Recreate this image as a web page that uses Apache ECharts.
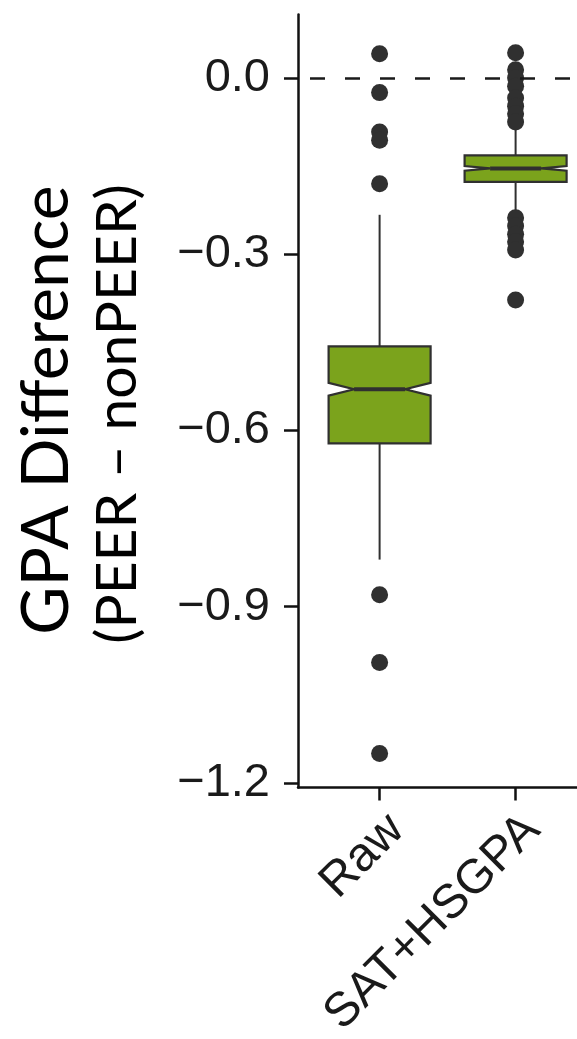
<!DOCTYPE html>
<html>
<head>
<meta charset="utf-8">
<script src="https://cdn.jsdelivr.net/npm/echarts@6/dist/echarts.min.js"></script>
<style>
html,body{margin:0;padding:0;background:#fff;}
#chart{width:577px;height:1039px;}
</style>
</head>
<body>
<div id="chart"></div>
<script>
// ---- data ----
const categories = ['Raw', 'SAT+HSGPA'];
const yTicks = [0, -0.3, -0.6, -0.9, -1.2];
// [lowerWhisker, q1, notchLow, median, notchHigh, q3, upperWhisker]
const rawBox = [-0.820, -0.622, -0.541, -0.530, -0.519, -0.457, -0.233];
const satBox = [-0.225, -0.177, -0.158, -0.154, -0.150, -0.132, -0.085];
const rawOutliers = [0.041, -0.025, -0.092, -0.106, -0.180, -0.880, -0.995, -1.150];
const satOutliers = [0.043, 0.014, 0.000, -0.014, -0.034, -0.048, -0.061, -0.075,
                     -0.238, -0.252, -0.266, -0.279, -0.293, -0.378];
const refLine = 0;

const boxes = [rawBox, satBox];
const outliers = [rawOutliers, satOutliers];

const chart = echarts.init(document.getElementById('chart'), null, {renderer: 'canvas'});

const boxData = categories.map((c, i) => [i + 1].concat(boxes[i]));
const outlierData = [];
outliers.forEach((arr, i) => arr.forEach(v => outlierData.push([i + 1, v])));

const ink = '#303030';
const fill = '#7ba31c';

function renderBox(params, api) {
  const x = api.value(0);
  const lw = api.value(1), q1 = api.value(2), nlo = api.value(3), med = api.value(4),
        nhi = api.value(5), q3 = api.value(6), uw = api.value(7);
  const hw = 0.375, nw = 0.1875;
  const P = (dx, v) => api.coord([x + dx, v]);
  const c = P(0, 0)[0];
  const pts = [P(-hw, q3), P(hw, q3), P(hw, nhi), P(nw, med), P(hw, nlo), P(hw, q1),
               P(-hw, q1), P(-hw, nlo), P(-nw, med), P(-hw, nhi)];
  const yq3 = P(0, q3)[1], yq1 = P(0, q1)[1], yuw = P(0, uw)[1], ylw = P(0, lw)[1];
  const m1 = P(-nw, med), m2 = P(nw, med);
  return {
    type: 'group',
    children: [
      {type: 'line', shape: {x1: c, y1: yq3, x2: c, y2: yuw}, style: {stroke: ink, lineWidth: 2}},
      {type: 'line', shape: {x1: c, y1: yq1, x2: c, y2: ylw}, style: {stroke: ink, lineWidth: 2}},
      {type: 'polygon', shape: {points: pts}, style: {fill: fill, stroke: ink, lineWidth: 2.2}},
      {type: 'line', shape: {x1: m1[0], y1: m1[1], x2: m2[0], y2: m2[1]}, style: {stroke: ink, lineWidth: 4}}
    ]
  };
}

const option = {
  backgroundColor: '#ffffff',
  animation: false,
  grid: {left: 298, top: 14.5, width: 435.2, height: 773, outerBoundsMode: 'none', containLabel: false},
  xAxis: {
    type: 'value', min: 0.4, max: 3.6,
    axisLine: {show: true, onZero: false, lineStyle: {color: '#111', width: 2.5}},
    axisTick: {show: true, customValues: [1, 2], length: 13, lineStyle: {color: '#111', width: 2.5}},
    axisLabel: {
      customValues: [1, 2], rotate: 45, margin: 18,
      verticalAlign: 'top',
      fontSize: 48, fontFamily: 'Liberation Sans', color: '#1a1a1a',
      formatter: v => categories[Math.round(v) - 1] || ''
    },
    splitLine: {show: false}
  },
  yAxis: {
    type: 'value', min: -1.208, max: 0.108,
    axisLine: {show: true, onZero: false, lineStyle: {color: '#111', width: 2.5}},
    axisTick: {show: true, customValues: yTicks, length: 14, lineStyle: {color: '#111', width: 2.5}},
    axisLabel: {
      customValues: yTicks, margin: 28,
      fontSize: 47, fontFamily: 'Liberation Sans', color: '#1a1a1a',
      formatter: v => (v < 0 ? '\u2212' : '') + Math.abs(v).toFixed(1)
    },
    splitLine: {show: false}
  },
  graphic: [
    {type: 'text', x: 47, y: 410, rotation: Math.PI / 2,
     style: {text: 'GPA Difference', fontSize: 66, fontFamily: 'Lato', fill: '#000', align: 'center', verticalAlign: 'middle'}},
    {type: 'text', x: 118, y: 414, rotation: Math.PI / 2,
     style: {text: '(PEER \u2013 nonPEER)', fontSize: 57, fontFamily: 'Lato', fill: '#000', align: 'center', verticalAlign: 'middle'}}
  ],
  series: [
    {
      type: 'custom', renderItem: renderBox, data: boxData,
      encode: {x: 0, y: [1, 2, 3, 4, 5, 6, 7]}, z: 2
    },
    {
      type: 'scatter', data: outlierData, symbolSize: 17,
      itemStyle: {color: ink, opacity: 1}, z: 3,
      markLine: {
        silent: true, symbol: ['none', 'none'], label: {show: false},
        lineStyle: {color: '#1a1a1a', width: 2.5, type: [15, 20], dashOffset: 23, opacity: 1},
        data: [{yAxis: refLine}]
      }
    }
  ]
};
chart.setOption(option);
</script>
</body>
</html>
